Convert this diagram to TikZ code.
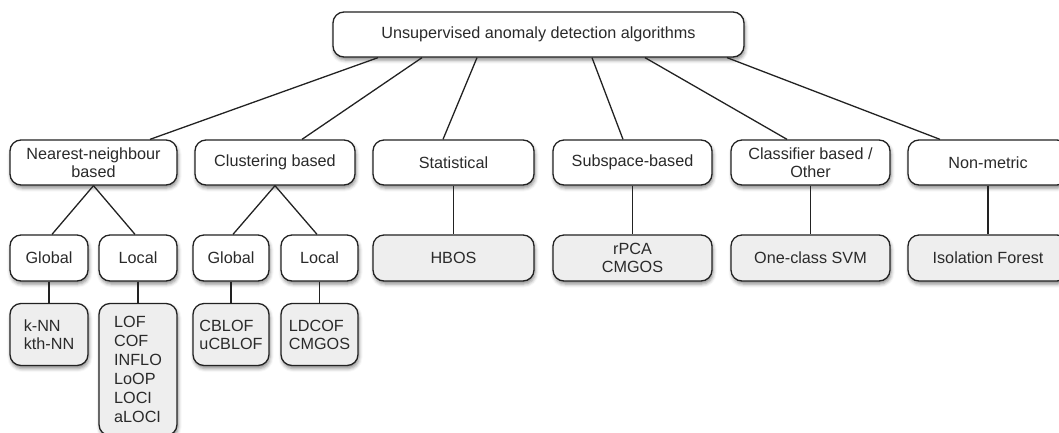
\documentclass[tikz,border=0pt]{standalone}
\usepackage{fontspec}
\setmainfont{Liberation Sans}
\usetikzlibrary{shadows.blur}
\definecolor{txt}{HTML}{2A2A2A}
\definecolor{leaf}{HTML}{EEEEEE}
\definecolor{edge}{HTML}{222222}
\begin{document}
\begin{tikzpicture}[x=1pt,y=-1pt,
  box/.style={draw=edge, line width=1.3pt, rounded corners=11pt, fill=white,
    text=txt, font=\fontsize{16.2}{18}\selectfont, inner sep=0pt,
    blur shadow={shadow xshift=1pt, shadow yshift=-3pt, shadow blur radius=3.5pt, shadow opacity=45}},
  leafbox/.style={box, fill=leaf},
  link/.style={draw=edge, line width=1.3pt}]
\useasboundingbox (0,0) rectangle (1059,432);
\clip (0,0) rectangle (1059,432);
% root
\node[box, minimum width=411pt, minimum height=45pt] (root) at (538.5,34.5) {Unsupervised anomaly detection algorithms};
% level 1
\node[box, minimum width=167pt, minimum height=45pt, align=center] (nn) at (93.5,162.5) {Nearest-neighbour\\based};
\node[box, minimum width=160pt, minimum height=45pt] (cl) at (275,162.5) {Clustering based};
\node[box, minimum width=161pt, minimum height=45pt] (st) at (453.5,162.5) {Statistical};
\node[box, minimum width=159pt, minimum height=45pt] (sub) at (632.5,162.5) {Subspace-based};
\node[box, minimum width=159pt, minimum height=45pt, align=center] (cls) at (810.5,162.5) {Classifier based /\\Other};
\node[box, minimum width=160pt, minimum height=45pt] (nm) at (988,162.5) {Non-metric};
% level 2
\node[box, minimum width=78pt, minimum height=46pt] (ng) at (49,258) {Global};
\node[box, minimum width=78pt, minimum height=46pt] (nl) at (138,258) {Local};
\node[box, minimum width=76pt, minimum height=46pt] (cg) at (231,258) {Global};
\node[box, minimum width=77pt, minimum height=46pt] (clc) at (319.5,258) {Local};
\node[leafbox, minimum width=161pt, minimum height=46pt] (stl) at (453.5,258) {HBOS};
\node[leafbox, minimum width=159pt, minimum height=46pt, align=center] (subl) at (632.5,258) {rPCA\\CMGOS};
\node[leafbox, minimum width=159pt, minimum height=46pt] (clsl) at (810.5,258) {One-class SVM};
\node[leafbox, minimum width=160pt, minimum height=46pt] (nml) at (988,258) {Isolation Forest};
% level 3
\node[leafbox, minimum width=78pt, minimum height=62pt, align=left] (ngl) at (49,334.5) {k-NN\\kth-NN};
\node[leafbox, minimum width=78pt, minimum height=132pt, align=left, font=\fontsize{16.2}{19}\selectfont] (nll) at (138,369.5) {LOF\\COF\\INFLO\\LoOP\\LOCI\\aLOCI};
\node[leafbox, minimum width=76pt, minimum height=62pt, align=left] (cgl) at (231,334.5) {CBLOF\\uCBLOF};
\node[leafbox, minimum width=77pt, minimum height=62pt, align=left] (cll) at (319.5,334.5) {LDCOF\\CMGOS};
% connectors from root
\draw[link] ([xshift=-160.5pt]root.south) -- ([xshift=56.5pt]nn.north);
\draw[link] ([xshift=-116.5pt]root.south) -- ([xshift=27pt]cl.north);
\draw[link] ([xshift=-61.5pt]root.south) -- ([xshift=-10.5pt]st.north);
\draw[link] ([xshift=53.5pt]root.south) -- ([xshift=-9.5pt]sub.north);
\draw[link] ([xshift=106.5pt]root.south) -- ([xshift=-23.5pt]cls.north);
\draw[link] ([xshift=188.5pt]root.south) -- ([xshift=-48pt]nm.north);
% subtrees
\draw[link] (nn.south) -- ([xshift=3pt]ng.north);
\draw[link] (nn.south) -- ([xshift=-3pt]nl.north);
\draw[link] (cl.south) -- ([xshift=2pt]cg.north);
\draw[link] (cl.south) -- ([xshift=-2.5pt]clc.north);
\draw[link] (ng.south) -- (ngl.north);
\draw[link] (nl.south) -- (nll.north);
\draw[link] (cg.south) -- (cgl.north);
\draw[link] (clc.south) -- (cll.north);
\draw[link] (st.south) -- (stl.north);
\draw[link] (sub.south) -- (subl.north);
\draw[link] (cls.south) -- (clsl.north);
\draw[link] (nm.south) -- (nml.north);
\end{tikzpicture}
\end{document}
